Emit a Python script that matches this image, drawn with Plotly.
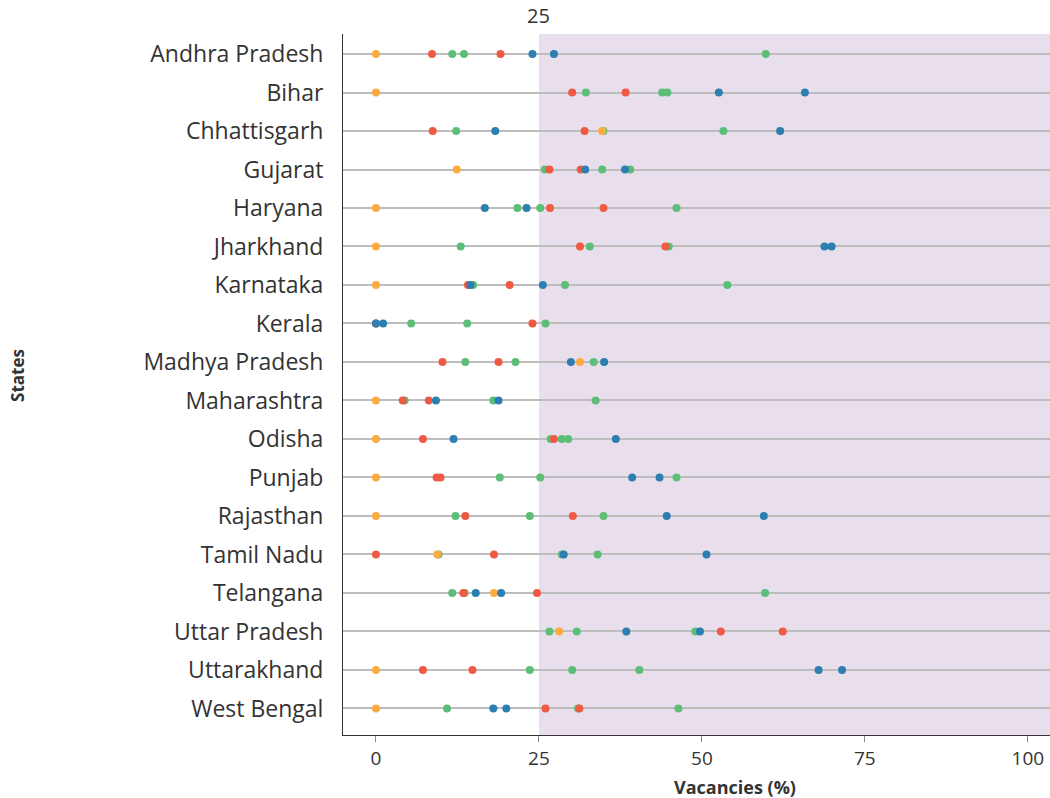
import plotly.graph_objects as go

states = ["Andhra Pradesh", "Bihar", "Chhattisgarh", "Gujarat", "Haryana", "Jharkhand",
          "Karnataka", "Kerala", "Madhya Pradesh", "Maharashtra", "Odisha", "Punjab",
          "Rajasthan", "Tamil Nadu", "Telangana", "Uttar Pradesh", "Uttarakhand", "West Bengal"]

green_a = [11.7, 32.2, 12.3, 25.9, 21.7, 13.0, 14.9, 5.4, 13.7, 4.4, 26.8, 19.0, 12.2, 9.6, 11.7, 26.6, 23.6, 10.9]
green_b = [13.5, 43.9, 34.9, 34.7, 25.2, 32.8, 29.0, 14.0, 21.4, 18.0, 28.5, 25.2, 23.6, 28.5, 13.6, 30.8, 30.1, 31.0]
green_c = [59.8, 44.7, 53.3, 39.0, 46.1, 44.9, 53.9, 26.0, 33.4, 33.7, 29.5, 46.1, 34.9, 34.0, 59.7, 49.0, 40.4, 46.4]
red_a = [8.6, 30.1, 8.7, 26.6, 26.7, 31.3, 14.1, 0.0, 10.2, 4.1, 7.2, 9.3, 13.7, 0.0, 13.4, 52.9, 7.2, 26.0]
red_b = [19.1, 38.3, 32.0, 31.4, 34.9, 44.4, 20.5, 24.0, 18.8, 8.1, 27.3, 9.9, 30.2, 18.1, 24.7, 62.4, 14.8, 31.2]
orange = [0.0, 0.0, 34.7, 12.4, 0.0, 0.0, 0.0, 0.0, 31.3, 0.0, 0.0, 0.0, 0.0, 9.4, 18.1, 28.1, 0.0, 0.0]
blue_a = [24.0, 52.6, 18.3, 32.1, 16.7, 68.8, 14.5, 0.0, 29.9, 9.2, 11.9, 39.3, 44.6, 28.8, 15.3, 38.4, 67.9, 18.0]
blue_b = [27.3, 65.8, 62.0, 38.2, 23.1, 69.9, 25.6, 1.1, 35.0, 18.8, 36.8, 43.5, 59.5, 50.7, 19.2, 49.7, 71.5, 20.0]

threshold = 25
x_ticks = [0, 25, 50, 75, 100]

GREEN = "#5DBE78"
RED = "#F05A45"
ORANGE = "#FDAA3F"
BLUE = "#2C7FB0"
FONT = "Open Sans, Lato, sans-serif"

fig = go.Figure()
series = [(green_a, GREEN), (green_b, GREEN), (green_c, GREEN),
          (red_a, RED), (red_b, RED), (orange, ORANGE),
          (blue_a, BLUE), (blue_b, BLUE)]
for vals, col in series:
    fig.add_trace(go.Scatter(
        x=vals, y=states, mode="markers",
        marker=dict(color=col, size=8, line=dict(width=0)),
        showlegend=False, cliponaxis=False,
    ))

fig.add_shape(type="rect", xref="x", yref="paper", x0=threshold, x1=120, y0=0, y1=1,
              fillcolor="#E9DFEC", line=dict(width=0), layer="below")
fig.add_annotation(x=threshold, xref="x", y=1, yref="paper", yanchor="bottom", yshift=3,
                   text=str(threshold), showarrow=False,
                   font=dict(family=FONT, size=20, color="#333333"))
fig.add_annotation(x=-0.4597, xref="paper", y=0.5136, yref="paper", textangle=-90,
                   text="<b>States</b>", showarrow=False, xanchor="center", yanchor="middle",
                   font=dict(family=FONT, size=17, color="#333333"))
fig.add_annotation(x=0.5545, xref="paper", y=-0.0742, yref="paper",
                   text="<b>Vacancies (%)</b>", showarrow=False, xanchor="center", yanchor="middle",
                   font=dict(family=FONT, size=18, color="#333333"))

fig.update_layout(
    width=1050, height=798,
    margin=dict(l=343, r=0, t=34, b=63),
    plot_bgcolor="white", paper_bgcolor="white",
    font=dict(family=FONT, color="#333333"),
)
fig.update_xaxes(
    range=[-5.06, 103.4], tickvals=x_ticks, ticktext=[str(t) for t in x_ticks],
    showgrid=False, zeroline=False, showline=True, linecolor="#333333", linewidth=1,
    ticks="outside", ticklen=6, tickcolor="#888888",
    tickfont=dict(family=FONT, size=19, color="#333333"),
)
fig.update_yaxes(
    categoryorder="array", categoryarray=states,
    range=[17.69, -0.52],
    showgrid=True, gridcolor="#BDBDBD", gridwidth=1.5,
    zeroline=False, showline=True, linecolor="#333333", linewidth=1,
    ticks="", ticklabelstandoff=14,
    tickfont=dict(family=FONT, size=23, color="#333333"),
)

fig.write_html("out.html",
               config={"displayModeBar": False},
               post_script="document.body.style.margin='0';document.body.style.overflow='hidden';")
